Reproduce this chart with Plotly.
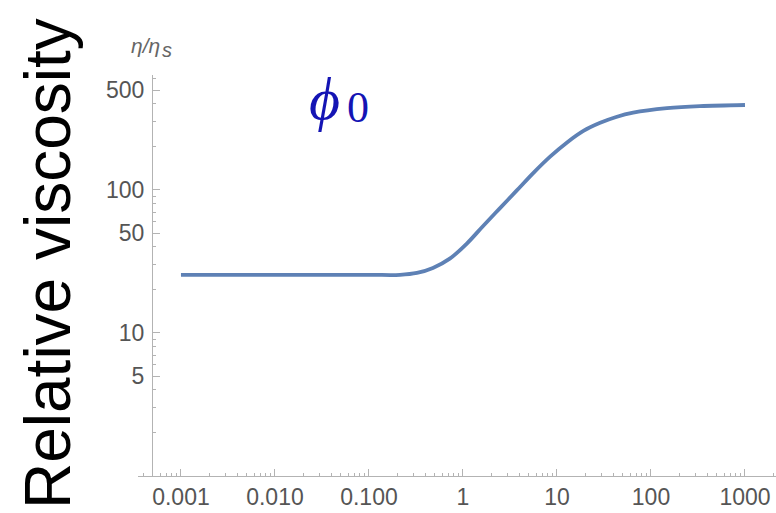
import plotly.graph_objects as go

# Data (shear rate vs relative viscosity)
shear_rate = [0.001, 0.01, 0.1, 0.214, 0.324, 0.479, 0.724, 1.10, 1.62, 2.45,
              3.72, 5.62, 8.51, 12.9, 19.1, 28.8, 42.7, 64.6, 148, 331, 1000]
rel_visc = [25.5, 25.5, 25.5, 25.5, 26.3, 28.5, 33.1, 42.2, 55.6, 74.1,
            98.9, 131.8, 171.8, 216, 259, 295, 324, 347, 373, 386, 393]

x_tickvals = [0.001, 0.01, 0.1, 1, 10, 100, 1000]
x_ticktext = ["0.001", "0.010", "0.100", "1", "10", "100", "1000"]
y_tickvals = [5, 10, 50, 100, 500]
y_ticktext = ["5", "10", "50", "100", "500"]

minor_vals = [m * 10.0 ** e for e in range(-4, 4) for m in range(2, 10)]

W, H = 776, 513
L, R, T, B = 138, 0, 75, 37
pw, ph = W - L - R, H - T - B


def px(xp):
    return (xp - L) / pw


def py(yp):
    return (H - B - yp) / ph


axis_col = "#b3b3b3"
tick_font = dict(family="Liberation Sans, Arial, sans-serif", size=23, color="#555555")

fig = go.Figure()
fig.add_trace(go.Scatter(
    x=shear_rate, y=rel_visc, mode="lines",
    line=dict(color="#5E81B5", width=3.8, shape="spline", smoothing=1.0),
    hoverinfo="skip", showlegend=False,
))

fig.update_layout(
    width=W, height=H,
    margin=dict(l=L, r=R, t=T, b=B, pad=0),
    paper_bgcolor="white", plot_bgcolor="white",
    xaxis=dict(
        type="log", range=[-3.457, 3.33], domain=[0, 1],
        showgrid=False, zeroline=False,
        showline=True, linecolor=axis_col, linewidth=1.2,
        ticks="inside", ticklen=7, tickcolor=axis_col, tickwidth=1,
        tickmode="array", tickvals=x_tickvals, ticktext=x_ticktext,
        tickfont=tick_font, ticklabelstandoff=0,
        minor=dict(tickmode="array", tickvals=minor_vals, ticks="inside",
                   ticklen=3, tickcolor=axis_col, showgrid=False),
    ),
    yaxis=dict(
        type="log", range=[0, 2.804],
        anchor="free", position=px(152),
        showgrid=False, zeroline=False,
        showline=True, linecolor=axis_col, linewidth=1.2,
        ticks="inside", ticklen=7, tickcolor=axis_col, tickwidth=1,
        tickmode="array", tickvals=y_tickvals, ticktext=y_ticktext,
        tickfont=tick_font, ticklabelstandoff=3,
        minor=dict(tickmode="array", tickvals=minor_vals, ticks="inside",
                   ticklen=3, tickcolor=axis_col, showgrid=False),
    ),
    annotations=[
        dict(text="Relative viscosity", xref="paper", yref="paper",
             x=px(48), y=py(264), xanchor="center", yanchor="middle",
             textangle=-90, showarrow=False,
             font=dict(family="Liberation Sans, Arial, sans-serif", size=64, color="black")),
        dict(text="<i>η/η</i>", xref="paper", yref="paper",
             x=px(162), y=py(46), xanchor="right", yanchor="middle",
             showarrow=False,
             font=dict(family="Liberation Sans, Arial, sans-serif", size=21, color="#666666")),
        dict(text="<i>s</i>", xref="paper", yref="paper",
             x=px(160), y=py(50), xanchor="left", yanchor="middle",
             showarrow=False,
             font=dict(family="Liberation Sans, Arial, sans-serif", size=20, color="#666666")),
        dict(text="<i>ϕ</i>", xref="paper", yref="paper",
             x=px(324), y=py(99), xanchor="center", yanchor="middle",
             showarrow=False,
             font=dict(family="Liberation Serif, DejaVu Serif, serif", size=60, color="#1414b4")),
        dict(text="0", xref="paper", yref="paper",
             x=px(358), y=py(107), xanchor="center", yanchor="middle",
             showarrow=False,
             font=dict(family="Liberation Serif, DejaVu Serif, serif", size=44, color="#1414b4")),
    ],
)

fig.write_html(
    "out.html",
    config={"displayModeBar": False},
    post_script="document.body.style.margin='0';document.body.style.overflow='hidden';",
)
